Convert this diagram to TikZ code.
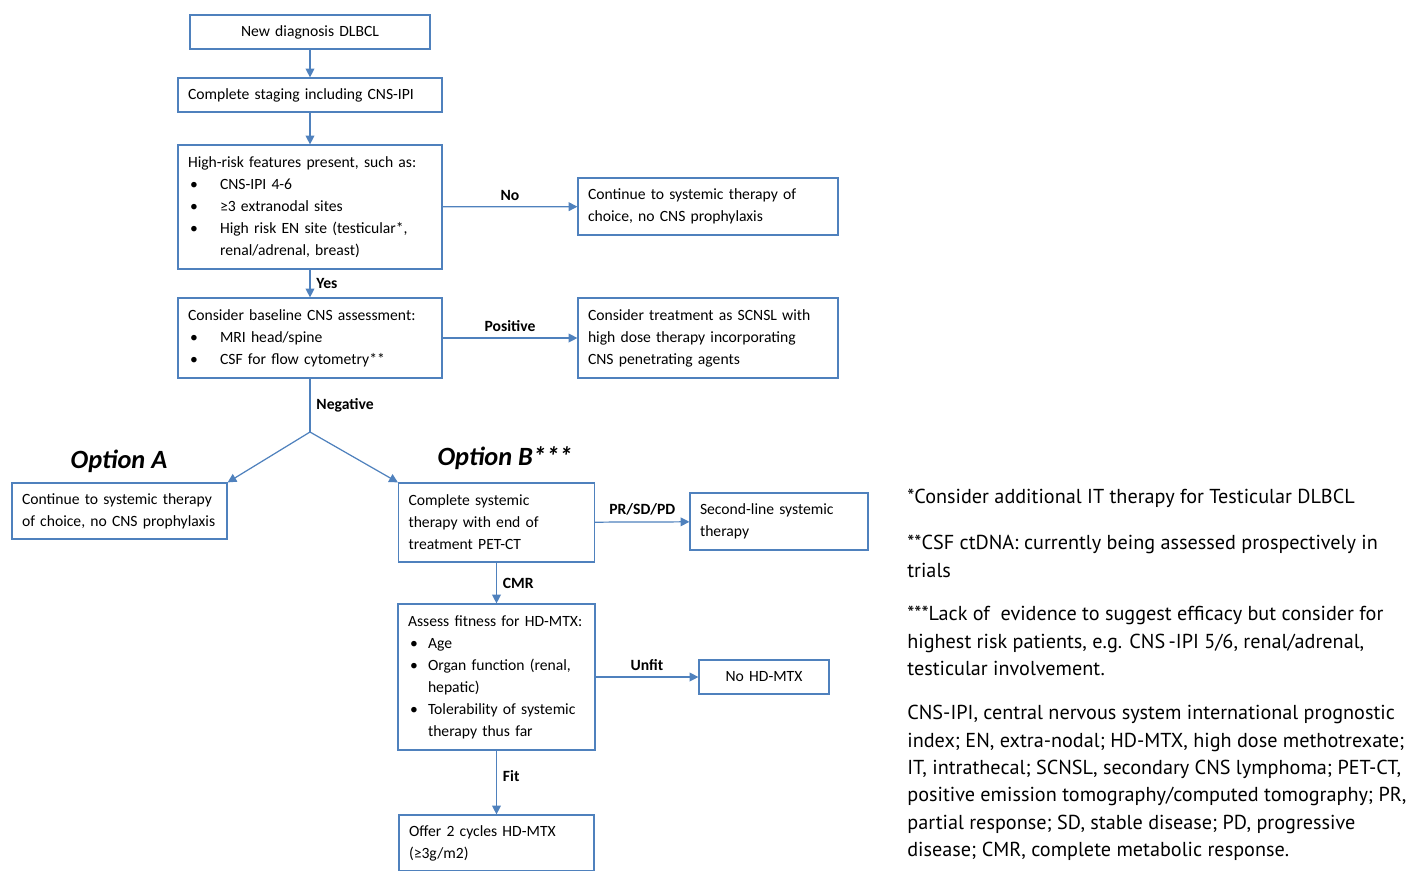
\documentclass[tikz,border=0pt]{standalone}
\usepackage{fontspec}
\setmainfont{Carlito}
\newfontfamily\notefont{PT Sans}
\usetikzlibrary{arrows.meta,positioning}
\definecolor{boxblue}{RGB}{79,129,189}
\newcommand{\bul}[2]{\par\noindent\hangindent=#1\hangafter=1\makebox[#1][l]{\hspace{0.04cm}\textbullet}#2\par}
\tikzset{
  box/.style={draw=boxblue, line width=0.7pt, rectangle, inner xsep=0.2cm, inner ysep=0.05cm,
    align=left, font=\fontsize{8.9}{12.5}\selectfont},
  lbl/.style={font=\bfseries\fontsize{8.9}{10}\selectfont},
  arr/.style={draw=boxblue, line width=0.7pt, -{Triangle[length=5pt,width=5pt]}},
  link/.style={draw=boxblue, line width=0.7pt},
  opt/.style={font=\bfseries\itshape\fontsize{15}{17}\selectfont},
  note/.style={anchor=west, align=left, inner sep=0pt, font=\notefont\fontsize{11.5}{15.6}\selectfont}
}
\begin{document}
\begin{tikzpicture}[x=0.02cm, y=-0.02cm]
  \clip (0,0) rectangle (1420,870);
  % main column
  \node[box, align=center, text width=4.4cm, minimum height=0.68cm] (diag) at (310,32) {New diagnosis DLBCL};
  \node[box, text width=4.88cm, minimum height=0.68cm] (stage) at (310,95) {Complete staging including CNS-IPI};
  \node[box, text width=4.88cm, minimum height=2.48cm] (risk) at (310,207) {High-risk features present, such as:%
    \bul{0.64cm}{CNS-IPI 4-6}\bul{0.64cm}{≥3 extranodal sites}%
    \bul{0.64cm}{High risk EN site (testicular*,\newline renal/adrenal, breast)}};
  \node[box, text width=4.88cm, minimum height=1.6cm] (base) at (310,338) {Consider baseline CNS assessment:%
    \bul{0.64cm}{MRI head/spine}\bul{0.64cm}{CSF for flow cytometry**}};
  % right column
  \node[box, text width=4.8cm, minimum height=1.14cm] (cont) at (708,206.5) {Continue to systemic therapy of\\choice, no CNS prophylaxis};
  \node[box, text width=4.8cm, minimum height=1.6cm] (scnsl) at (708,338) {Consider treatment as SCNSL with\\high dose therapy incorporating\\CNS penetrating agents};
  % options
  \node[opt] (titleA) at (119,461) {Option A};
  \node[opt] (titleB) at (505,458) {Option B***};
  \node[box, text width=3.9cm, minimum height=1.12cm] (optA) at (119.5,511) {Continue to systemic therapy\\of choice, no CNS prophylaxis};
  \node[box, text width=3.52cm, minimum height=1.58cm] (optB) at (496.5,522.5) {Complete systemic\\therapy with end of\\treatment PET-CT};
  \node[box, text width=3.16cm, minimum height=1.14cm] (second) at (779,521.5) {Second-line systemic\\therapy};
  \node[box, text width=3.54cm, minimum height=2.92cm] (fit) at (496.5,677) {Assess fitness for HD-MTX:%
    \bul{0.4cm}{Age}\bul{0.4cm}{Organ function (renal,\newline hepatic)}%
    \bul{0.4cm}{Tolerability of systemic\newline therapy thus far}};
  \node[box, align=center, text width=2.2cm, minimum height=0.68cm] (nomtx) at (764,677) {No HD-MTX};
  \node[box, text width=3.5cm, minimum height=1.12cm] (offer) at (496.5,843) {Offer 2 cycles HD-MTX\\(≥3g/m2)};
  \coordinate (split) at (310,432);
  % connectors
  \draw[arr] (diag) -- (stage);
  \draw[arr] (stage) -- (risk);
  \draw[arr] (risk) -- node[lbl, above] {No} (cont);
  \draw[arr] (risk) -- node[lbl, right] {Yes} (base);
  \draw[arr] (base) -- node[lbl, above] {Positive} (scnsl);
  \draw[link] (base) -- node[lbl, right] {Negative} (split);
  \draw[arr] (split) -- (optA.north east);
  \draw[arr] (split) -- (optB.north west);
  \draw[arr] (optB) -- node[lbl, above] {PR/SD/PD} (second);
  \draw[arr] (optB) -- node[lbl, right] {CMR} (fit);
  \draw[arr] (fit) -- node[lbl, above] {Unfit} (nomtx);
  \draw[arr] (fit) -- node[lbl, right, pos=0.4] {Fit} (offer);
  % notes
  \node[note] (note1) at (907,498) {*Consider additional IT therapy for Testicular DLBCL};
  \node[note] (note2) at (907,556.5) {**CSF ctDNA: currently being assessed prospectively in\\trials};
  \node[note] (note3) at (907,641) {***Lack of\ \ evidence to suggest efficacy but consider for\\highest risk patients, e.g. CNS\,-IPI 5/6, renal/adrenal,\\testicular involvement.};
  \node[note] (note4) at (907,783) {CNS-IPI, central nervous system international prognostic\\index; EN, extra-nodal; HD-MTX, high dose methotrexate;\\IT, intrathecal; SCNSL, secondary CNS lymphoma; PET-CT,\\positive emission tomography/computed tomography; PR,\\partial response; SD, stable disease; PD, progressive\\disease; CMR, complete metabolic response.};
\end{tikzpicture}
\end{document}
